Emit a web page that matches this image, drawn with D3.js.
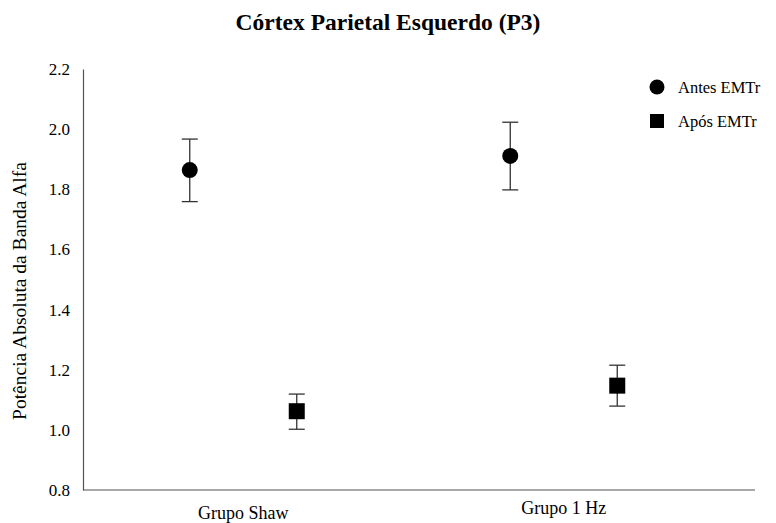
<!DOCTYPE html>
<html>
<head>
<meta charset="utf-8">
<script src="https://cdn.jsdelivr.net/npm/d3@7"></script>
<style>
  html, body { margin: 0; padding: 0; background: #fff; }
  svg { display: block; font-family: "Liberation Serif", "Times New Roman", serif; }
</style>
</head>
<body>
<svg id="chart" width="776" height="523"></svg>
<script>
// Alpha band absolute power, left parietal cortex (P3)
const groups = ["Grupo Shaw", "Grupo 1 Hz"];
const seriesNames = ["Antes EMTr", "Após EMTr"];
const meanAntes = [1.864, 1.911];
const lowAntes  = [1.759, 1.798];
const highAntes = [1.967, 2.023];
const meanApos  = [1.062, 1.147];
const lowApos   = [1.002, 1.079];
const highApos  = [1.119, 1.215];
const yTicks = [0.8, 1.0, 1.2, 1.4, 1.6, 1.8, 2.0, 2.2];

const series = [
  { name: seriesNames[0], shape: "circle", mean: meanAntes, low: lowAntes, high: highAntes },
  { name: seriesNames[1], shape: "square", mean: meanApos,  low: lowApos,  high: highApos }
];

const svg = d3.select("#chart");
const plot = { left: 83, right: 755, top: 69, bottom: 490 };

const y = d3.scaleLinear().domain([0.8, 2.2]).range([plot.bottom, plot.top]);
const x = d3.scaleBand().domain(groups).range([plot.left, 724]).padding(0);
const xs = d3.scalePoint().domain(seriesNames).range([-53.5, 53.5]);

// Title
svg.append("text")
  .attr("x", 388).attr("y", 30)
  .attr("text-anchor", "middle")
  .attr("font-weight", "bold")
  .attr("font-size", 23.5)
  .text("Córtex Parietal Esquerdo (P3)");

// Y axis
const yAxis = svg.append("g")
  .attr("transform", `translate(${plot.left},0)`)
  .call(d3.axisLeft(y).tickValues(yTicks).tickFormat(d3.format(".1f")).tickSize(0).tickPadding(13));
yAxis.select(".domain").attr("stroke", "#555").attr("stroke-width", 1.2);
yAxis.selectAll("text").attr("font-size", 17).attr("fill", "#000")
  .attr("font-family", "Liberation Serif, serif");

// X axis line
svg.append("line")
  .attr("x1", plot.left).attr("x2", plot.right)
  .attr("y1", plot.bottom).attr("y2", plot.bottom)
  .attr("stroke", "#555").attr("stroke-width", 1.2);

// Category labels
svg.selectAll("text.cat")
  .data(groups)
  .join("text")
  .attr("class", "cat")
  .attr("x", d => x(d) + x.bandwidth() / 2)
  .attr("y", (d, i) => i === 0 ? 519 : 514)
  .attr("text-anchor", "middle")
  .attr("font-size", 18)
  .text(d => d);

// Y axis title
svg.append("text")
  .attr("transform", "translate(26, 291) rotate(-90)")
  .attr("text-anchor", "middle")
  .attr("font-size", 19.5)
  .text("Potência Absoluta da Banda Alfa");

// Error bars and markers
const capHalf = 8;
series.forEach(s => {
  const g = svg.append("g");
  groups.forEach((grp, i) => {
    const cx = x(grp) + x.bandwidth() / 2 + xs(s.name);
    g.append("line")
      .attr("x1", cx).attr("x2", cx)
      .attr("y1", y(s.high[i])).attr("y2", y(s.low[i]))
      .attr("stroke", "#333").attr("stroke-width", 1.3);
    [s.high[i], s.low[i]].forEach(v => {
      g.append("line")
        .attr("x1", cx - capHalf).attr("x2", cx + capHalf)
        .attr("y1", y(v)).attr("y2", y(v))
        .attr("stroke", "#333").attr("stroke-width", 1.3);
    });
    if (s.shape === "circle") {
      g.append("circle").attr("cx", cx).attr("cy", y(s.mean[i])).attr("r", 8).attr("fill", "#000");
    } else {
      g.append("rect")
        .attr("x", cx - 8).attr("y", y(s.mean[i]) - 8)
        .attr("width", 16).attr("height", 16).attr("fill", "#000");
    }
  });
});

// Legend
const legend = svg.append("g").attr("transform", "translate(657, 87)");
series.forEach((s, i) => {
  const row = legend.append("g").attr("transform", `translate(0, ${i * 34})`);
  if (s.shape === "circle") {
    row.append("circle").attr("cx", 0).attr("cy", 0).attr("r", 7.5).attr("fill", "#000");
  } else {
    row.append("rect").attr("x", -7).attr("y", -7).attr("width", 14).attr("height", 14).attr("fill", "#000");
  }
  row.append("text")
    .attr("x", 21).attr("y", 0).attr("dy", "0.35em")
    .attr("font-size", 16.5)
    .text(s.name);
});
</script>
</body>
</html>
